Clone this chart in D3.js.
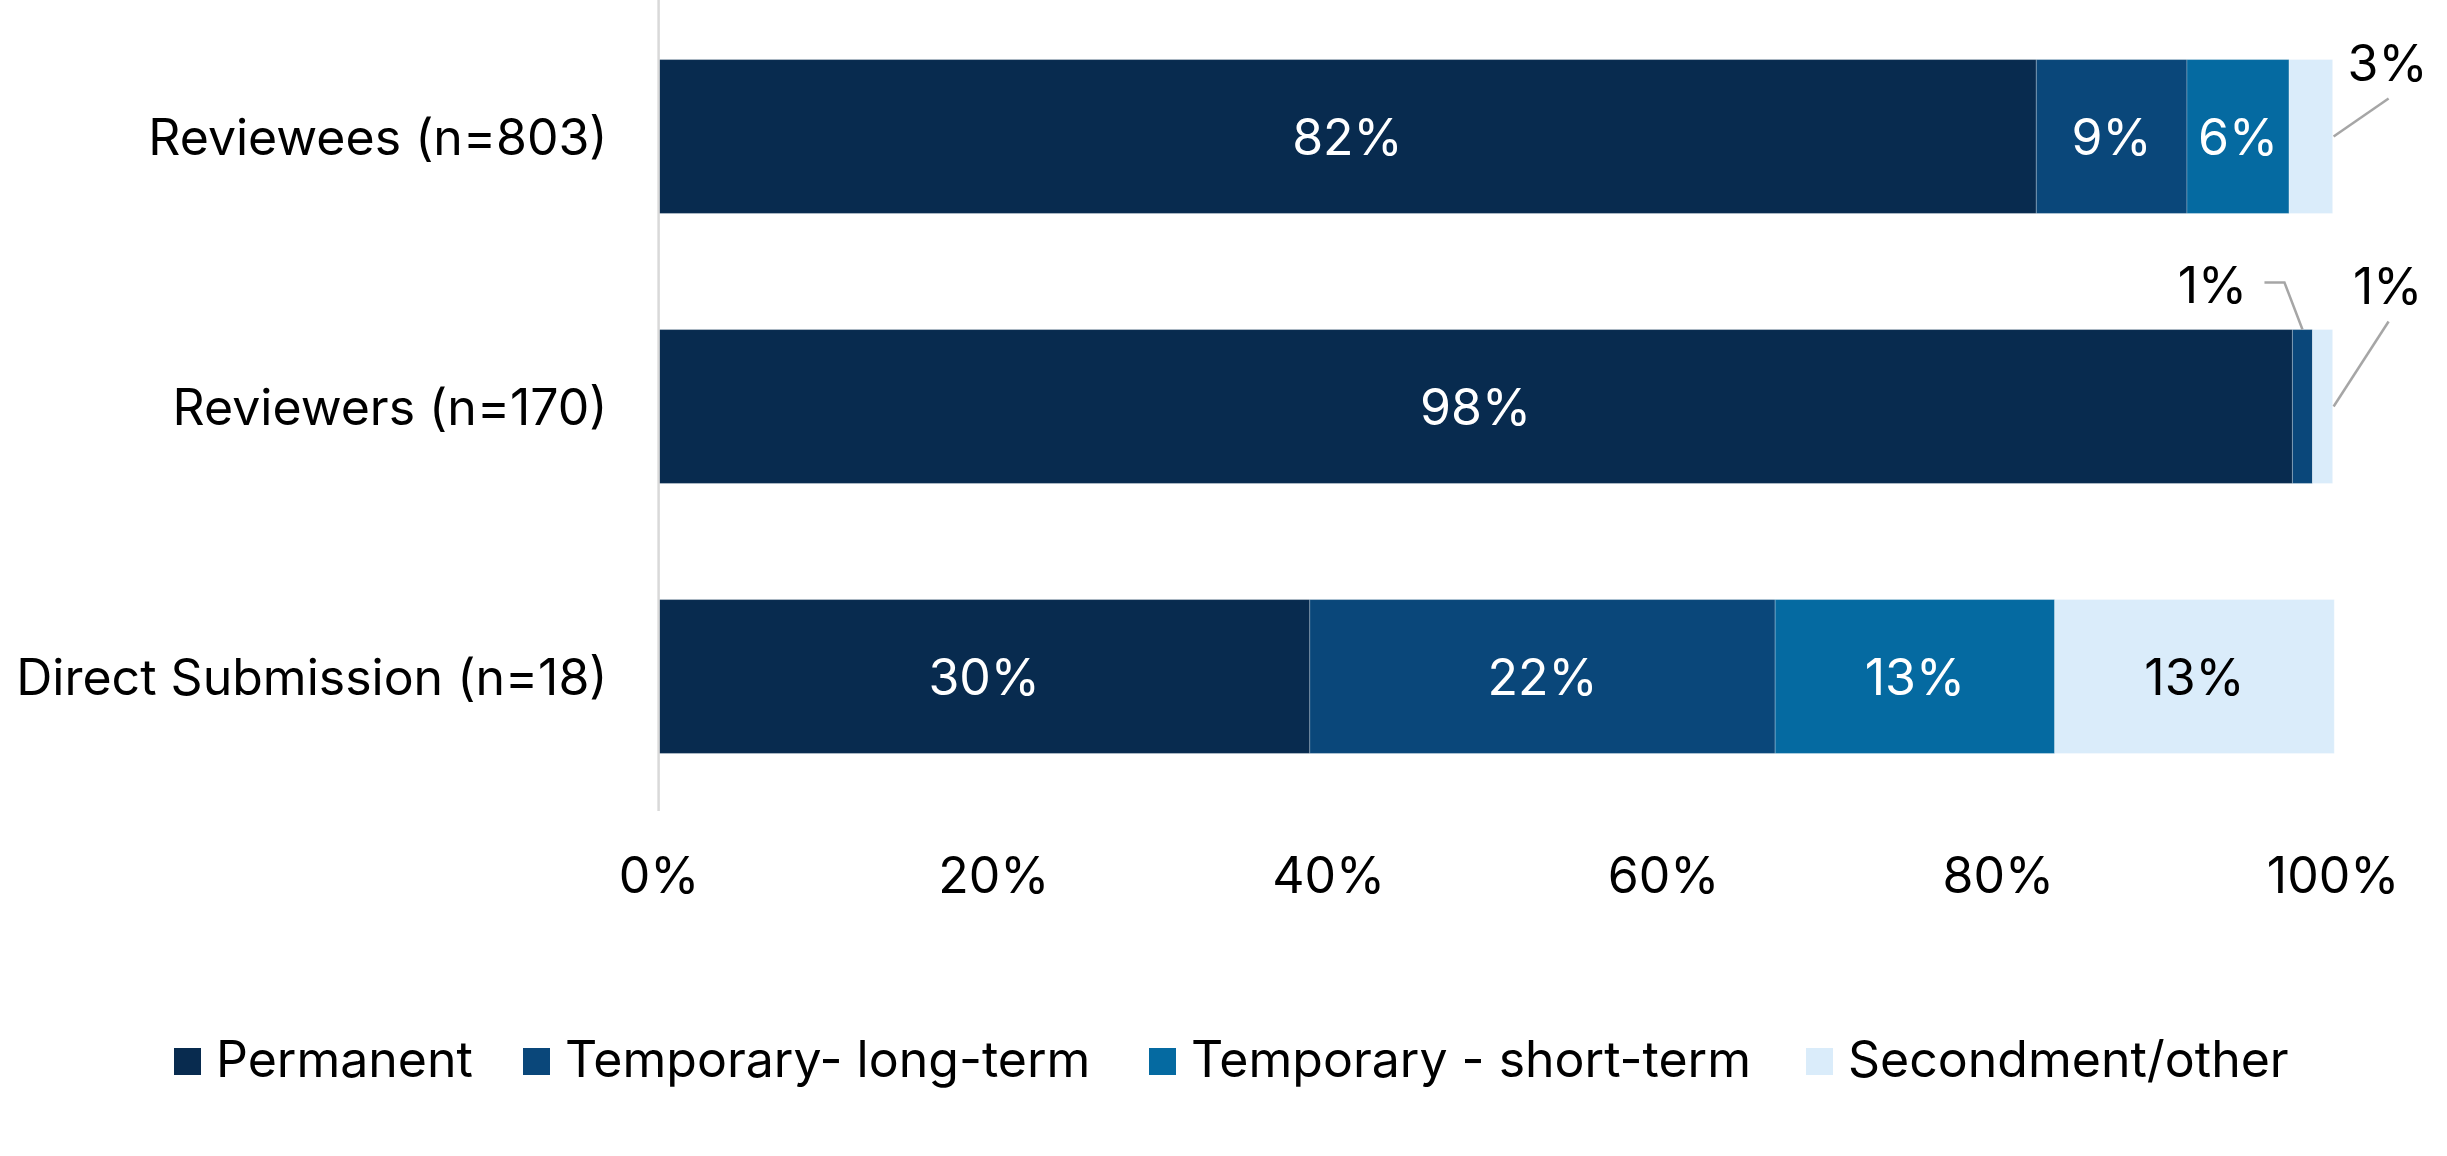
<!DOCTYPE html>
<html>
<head>
<meta charset="utf-8">
<script src="https://cdn.jsdelivr.net/npm/d3@7"></script>
<style>
  body { margin: 0; background: #fff; }
  text { font-family: Inter, "Noto Sans", sans-serif; }
</style>
</head>
<body>
<div class="container"></div>
<script>
// categories, top to bottom
var categories = ["Reviewees (n=803)", "Reviewers (n=170)", "Direct Submission (n=18)"];
var seriesNames = ["Permanent", "Temporary- long-term", "Temporary - short-term", "Secondment/other"];
var seriesColors = ["#082b4f", "#0a477a", "#056aa1", "#daecfa"];
// shares (%) per category, in series order
var permanent = [82.3, 97.6, 38.9];
var longTerm = [9.0, 1.2, 27.8];
var shortTerm = [6.1, 0, 16.7];
var secondment = [2.6, 1.2, 16.7];
// printed labels (as shown on the chart)
var permanentLabels = ["82%", "98%", "30%"];
var longTermLabels = ["9%", "1%", "22%"];
var shortTermLabels = ["6%", "", "13%"];
var secondmentLabels = ["3%", "1%", "13%"];
var tickValues = [0, 0.2, 0.4, 0.6, 0.8, 1];

var w = 2447, h = 1156;
var x0 = 658.6, x1 = 2332.6;
var fontSize = 50;

var svg = d3.select(".container").append("svg")
  .attr("width", w)
  .attr("height", h);

var xScale = d3.scaleLinear().domain([0, 1]).range([x0, x1]);
var yScale = d3.scaleBand()
  .domain(categories)
  .range([1.5, 811.5])
  .paddingInner(0.43)
  .paddingOuter(0.215);

// build stacked rows
var allValues = [permanent, longTerm, shortTerm, secondment];
var allLabels = [permanentLabels, longTermLabels, shortTermLabels, secondmentLabels];
var rows = categories.map(function (c, i) {
  var r = { cat: c };
  seriesNames.forEach(function (s, j) { r[s] = allValues[j][i] / 100; });
  return r;
});
var stack = d3.stack().keys(seriesNames);
var layers = stack(rows);

// value axis
var xAxis = d3.axisBottom(xScale)
  .tickValues(tickValues)
  .tickSize(0)
  .tickPadding(0)
  .tickFormat(d3.format(".0%"));
var gx = svg.append("g")
  .attr("transform", "translate(0,893)")
  .call(xAxis);
gx.select(".domain").remove();
gx.selectAll("text")
  .attr("dy", 0)
  .attr("y", 0)
  .attr("fill", "#000")
  .style("font-size", fontSize + "px");

// bars
layers.forEach(function (layer, j) {
  svg.append("g")
    .selectAll("rect")
    .data(layer)
    .enter()
    .append("rect")
    .attr("x", function (d) { return xScale(d[0]); })
    .attr("y", function (d) { return yScale(d.data.cat); })
    .attr("width", function (d) { return xScale(d[1]) - xScale(d[0]); })
    .attr("height", yScale.bandwidth())
    .attr("fill", seriesColors[j])
    .attr("stroke", "#ffffff")
    .attr("stroke-opacity", 0.25)
    .attr("stroke-width", 1);
});

// vertical category axis line
svg.append("line")
  .attr("x1", xScale(0)).attr("x2", xScale(0))
  .attr("y1", 0).attr("y2", 811)
  .attr("stroke", "#d9d9d9")
  .attr("stroke-width", 2.5);

// category labels
svg.append("g")
  .selectAll("text")
  .data(categories)
  .enter()
  .append("text")
  .attr("x", xScale(0) - 51)
  .attr("y", function (d) { return yScale(d) + yScale.bandwidth() / 2; })
  .attr("dy", "0.36em")
  .attr("text-anchor", "end")
  .style("font-size", fontSize + "px")
  .attr("fill", "#000")
  .text(function (d) { return d; });

// data labels
var leader = "#a6a6a6";
layers.forEach(function (layer, j) {
  layer.forEach(function (d, i) {
    var txt = allLabels[j][i];
    if (!txt) return;
    var top = yScale(d.data.cat);
    var mid = top + yScale.bandwidth() / 2;
    var width = xScale(d[1]) - xScale(d[0]);
    if (width > 60) {
      svg.append("text")
        .attr("x", (xScale(d[0]) + xScale(d[1])) / 2)
        .attr("y", mid)
        .attr("dy", "0.36em")
        .attr("text-anchor", "middle")
        .style("font-size", fontSize + "px")
        .attr("fill", j == 3 ? "#000" : "#fff")
        .text(txt);
    } else if (j == 3) {
      // thin end slice: label above right, slanted leader
      var ex = xScale(d[1]) + 1;
      var dyUp = i == 0 ? 38 : 85;
      svg.append("line")
        .attr("x1", ex).attr("y1", mid)
        .attr("x2", ex + 55).attr("y2", mid - dyUp)
        .attr("stroke", leader).attr("stroke-width", 2.5);
      svg.append("text")
        .attr("x", ex + 54)
        .attr("y", mid - dyUp - 18)
        .attr("text-anchor", "middle")
        .style("font-size", fontSize + "px")
        .attr("fill", "#000")
        .text(txt);
    } else {
      // thin inner slice: label above left, elbow leader
      var cx = (xScale(d[0]) + xScale(d[1])) / 2;
      svg.append("polyline")
        .attr("points", [[cx - 38, top - 47], [cx - 18, top - 47], [cx, top]].join(" "))
        .attr("fill", "none")
        .attr("stroke", leader).attr("stroke-width", 2.5);
      svg.append("text")
        .attr("x", cx - 90)
        .attr("y", top - 27)
        .attr("text-anchor", "middle")
        .style("font-size", fontSize + "px")
        .attr("fill", "#000")
        .text(txt);
    }
  });
});

// legend
var legendX = [174, 523, 1149, 1806];
var legend = svg.append("g");
seriesNames.forEach(function (s, j) {
  legend.append("rect")
    .attr("x", legendX[j]).attr("y", 1048)
    .attr("width", 27).attr("height", 27)
    .attr("fill", seriesColors[j]);
  legend.append("text")
    .attr("x", legendX[j] + 42)
    .attr("y", 1077)
    .style("font-size", fontSize + "px")
    .attr("fill", "#000")
    .text(s);
});
</script>
</body>
</html>
